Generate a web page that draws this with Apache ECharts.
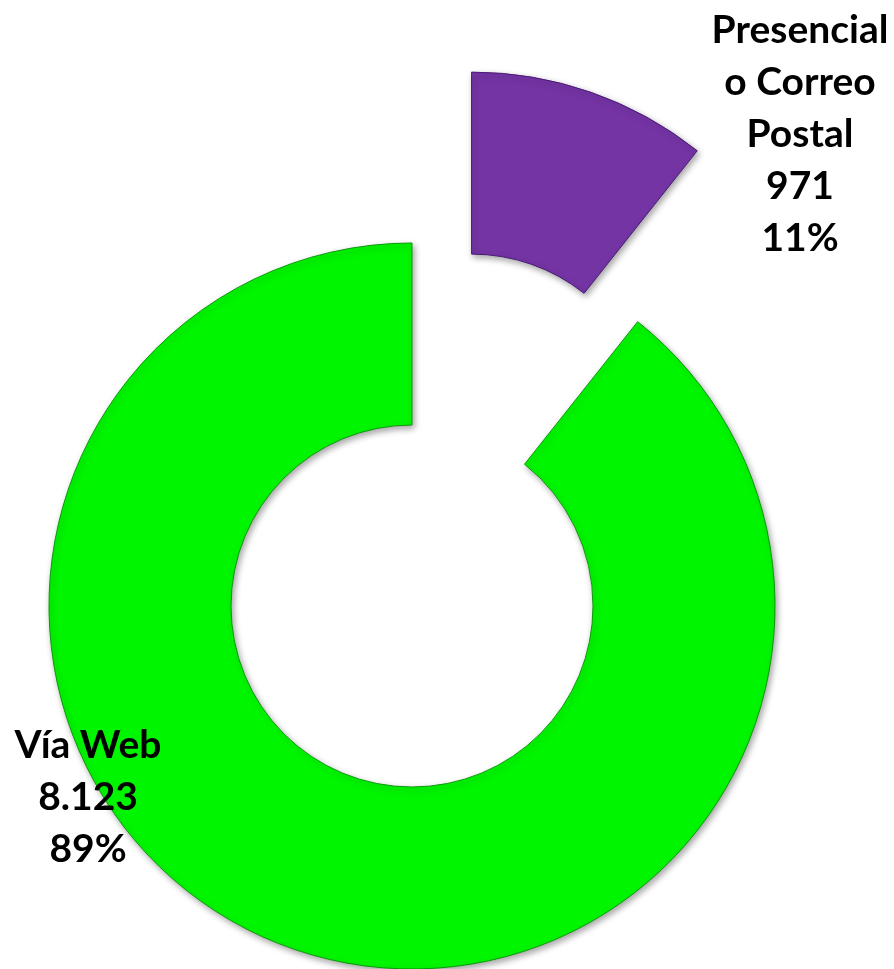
<!DOCTYPE html>
<html>
<head>
<meta charset="utf-8">
<script src="https://cdn.jsdelivr.net/npm/echarts@6/dist/echarts.min.js"></script>
<style>
  html, body { margin: 0; padding: 0; background: #fff; }
  #chart { width: 894px; height: 969px; }
</style>
</head>
<body>
<div id="chart"></div>
<script>
// datos
var categorias = ['Presencial\no Correo\nPostal', 'Vía Web'];
var valores = [971, 8123];
var colores = ['#7434a4', '#00f500'];
var bordes = ['#4a1a75', '#0a9a0a'];
// posición de las etiquetas (centro del bloque de texto)
var posEtiquetas = [[800, 134], [88, 797]];

// separador de miles con punto
function miles(n) {
  return String(n).replace(/\B(?=(\d{3})+(?!\d))/g, '.');
}

var chart = echarts.init(document.getElementById('chart'));

var datos = categorias.map(function (c, i) {
  return { name: c, value: valores[i] };
});

var option = {
  backgroundColor: '#ffffff',
  animation: false,
  series: [{
    // anillo
    type: 'pie',
    center: [412, 606],
    radius: [181, 363],
    startAngle: 90,
    clockwise: true,
    selectedMode: 'single',
    selectedOffset: 181,
    emphasis: { disabled: true },
    label: { show: false },
    labelLine: { show: false },
    data: datos.map(function (d, i) {
      return {
        name: d.name,
        value: d.value,
        selected: i === 0,
        itemStyle: {
          color: colores[i],
          borderColor: bordes[i],
          borderWidth: 1,
          shadowBlur: 6,
          shadowOffsetX: 2,
          shadowOffsetY: 3,
          shadowColor: 'rgba(0,0,0,0.35)'
        }
      };
    })
  }, {
    // solo etiquetas
    type: 'pie',
    center: [412, 606],
    radius: [181, 363],
    startAngle: 90,
    clockwise: true,
    silent: true,
    z: 5,
    avoidLabelOverlap: false,
    itemStyle: { color: 'rgba(0,0,0,0)' },
    label: {
      show: true,
      position: 'outside',
      fontFamily: 'Lato',
      fontWeight: 'bold',
      fontSize: 39,
      lineHeight: 52,
      color: '#000',
      align: 'center',
      formatter: function (p) {
        return p.name + '\n' + miles(p.value) + '\n' + Math.round(p.percent) + '%';
      }
    },
    labelLine: { show: false },
    labelLayout: function (params) {
      var pos = posEtiquetas[params.dataIndex];
      return { x: pos[0], y: pos[1], align: 'center', verticalAlign: 'middle' };
    },
    data: datos
  }]
};

chart.setOption(option);
</script>
</body>
</html>
